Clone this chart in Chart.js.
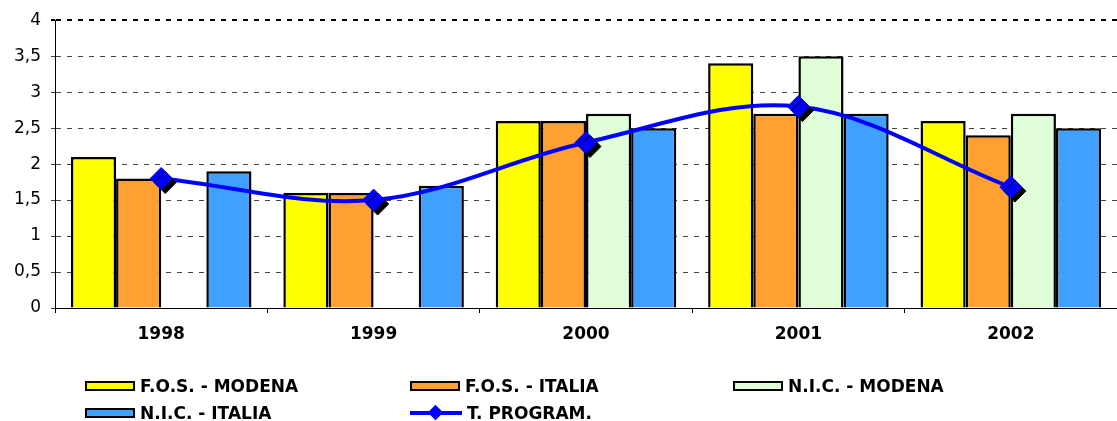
<!DOCTYPE html>
<html><head><meta charset="utf-8">
<script src="https://cdn.jsdelivr.net/npm/chart.js@4/dist/chart.umd.min.js"></script>
<style>
html,body{margin:0;padding:0;background:#fff;}
#wrap{position:relative;width:1117px;height:421px;overflow:hidden;}
#c{position:absolute;left:0;top:0;}
.leg{position:absolute;display:flex;align-items:center;font:bold 17px "DejaVu Sans",Verdana,sans-serif;color:#000;white-space:nowrap;line-height:20px;}
.sw{box-sizing:border-box;width:50px;height:10px;border:2px solid #000;margin-right:5px;}
.lsw{position:relative;width:52px;height:20px;margin-right:5px;}
.lsw .ln{position:absolute;left:0;right:0;top:8px;height:4px;background:#0000FF;}
.lsw .dm{position:absolute;left:20px;top:4px;width:11px;height:11px;background:#0000FF;transform:rotate(45deg);}
</style></head><body>
<div id="wrap"><canvas id="c" width="1117" height="421"></canvas></div>
<script>
const categories = ['1998', '1999', '2000', '2001', '2002'];
const fosModena = [2.1, 1.6, 2.6, 3.4, 2.6];
const fosItalia = [1.8, 1.6, 2.6, 2.7, 2.4];
const nicModena = [null, null, 2.7, 3.5, 2.7];
const nicItalia = [1.9, 1.7, 2.5, 2.7, 2.5];
const tProgram = [1.8, 1.5, 2.3, 2.8, 1.68];
const yTickLabels = ['0', '0,5', '1', '1,5', '2', '2,5', '3', '3,5', '4'];
const seriesNames = ['F.O.S. - MODENA', 'F.O.S. - ITALIA', 'N.I.C. - MODENA', 'N.I.C. - ITALIA', 'T. PROGRAM.'];
const seriesColors = ['#FFFF00', '#FFA030', '#E0FFD8', '#40A0FF', '#0000FF'];

const FONT = '"DejaVu Sans", Verdana, sans-serif';

const markerShadow = {
  id: 'markerShadow',
  beforeDatasetDraw(chart, args) {
    if (chart.data.datasets[args.index].markerShadow) {
      const ctx = chart.ctx;
      ctx.save();
      ctx.shadowColor = '#000';
      ctx.shadowOffsetX = 4;
      ctx.shadowOffsetY = 4;
      ctx.shadowBlur = 0;
    }
  },
  afterDatasetDraw(chart, args) {
    if (chart.data.datasets[args.index].markerShadow) chart.ctx.restore();
  }
};

function barDs(i, data) {
  return {
    type: 'bar', label: seriesNames[i], data: data,
    backgroundColor: seriesColors[i], borderColor: '#000', borderWidth: 2.5,
    categoryPercentage: 0.85, barPercentage: 1.0, order: 2
  };
}

new Chart(document.getElementById('c'), {
  data: {
    labels: categories,
    datasets: [
      barDs(0, fosModena),
      barDs(1, fosItalia),
      barDs(2, nicModena),
      barDs(3, nicItalia),
      {
        type: 'line', label: seriesNames[4], data: tProgram,
        borderColor: seriesColors[4], borderWidth: 4, tension: 0.35,
        pointRadius: 0, fill: false, order: 1
      },
      {
        type: 'line', label: seriesNames[4] + ' marker', data: tProgram,
        showLine: false, pointStyle: 'rectRot', pointRadius: 11,
        pointBackgroundColor: seriesColors[4], pointBorderColor: seriesColors[4],
        pointBorderWidth: 1, markerShadow: true, order: 0
      }
    ]
  },
  options: {
    responsive: false,
    animation: false,
    layout: { autoPadding: false, padding: { top: 17, right: 0, bottom: 73, left: 0 } },
    plugins: { legend: { display: false }, tooltip: { enabled: false } },
    scales: {
      x: {
        offset: true,
        grid: { display: true, drawOnChartArea: false, drawTicks: true, tickLength: 5, color: '#000', offset: true },
        border: { display: true, color: '#000', width: 1 },
        ticks: { font: { family: FONT, size: 17, weight: 'bold' }, color: '#000', padding: 11 },
        afterFit(s) { s.height = 40; s.paddingLeft = 0; s.paddingRight = 0; }
      },
      y: {
        min: 0, max: 4,
        ticks: {
          stepSize: 0.5, color: '#000', padding: 10,
          font: { family: FONT, size: 17 },
          callback: (v, i) => yTickLabels[i]
        },
        grid: {
          color: c => (c.tick && c.tick.value === 4) ? '#000' : '#444',
          lineWidth: c => (c.tick && c.tick.value === 4) ? 2 : 1,
          tickLength: 4, drawTicks: true
        },
        border: { display: true, color: '#000', width: 1, dash: [5, 6] },
        afterFit(s) { s.width = 55; }
      }
    }
  },
  plugins: [markerShadow]
});

// HTML legend
const wrap = document.getElementById('wrap');
const legPos = [[85, 386], [410, 386], [733, 386], [85, 413], [410, 413]];
seriesNames.forEach((name, i) => {
  const d = document.createElement('div');
  d.className = 'leg';
  d.style.left = legPos[i][0] + 'px';
  d.style.top = (legPos[i][1] - 10) + 'px';
  if (i < 4) {
    const s = document.createElement('div');
    s.className = 'sw';
    s.style.background = seriesColors[i];
    d.appendChild(s);
  } else {
    const s = document.createElement('div');
    s.className = 'lsw';
    s.innerHTML = '<div class="ln"></div><div class="dm"></div>';
    d.appendChild(s);
  }
  const t = document.createElement('span');
  t.textContent = name;
  d.appendChild(t);
  wrap.appendChild(d);
});
</script>
</body></html>
